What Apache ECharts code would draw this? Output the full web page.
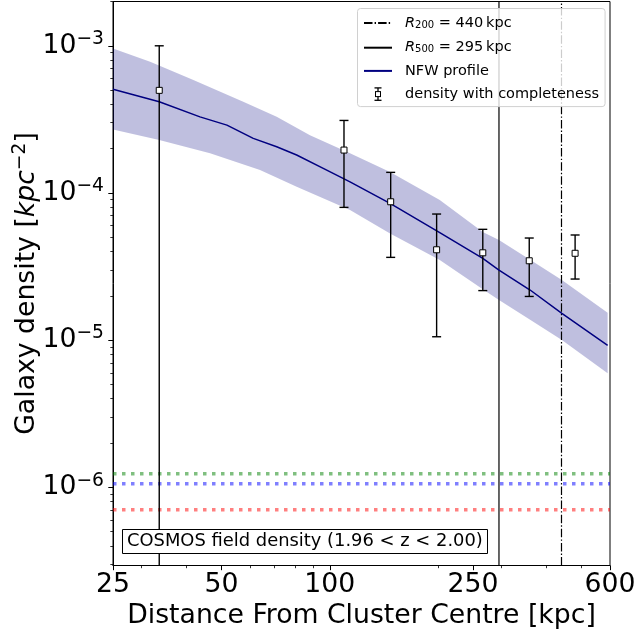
<!DOCTYPE html>
<html>
<head>
<meta charset="utf-8">
<script src="https://cdn.jsdelivr.net/npm/echarts@6/dist/echarts.min.js"></script>
<style>
html,body{margin:0;padding:0;background:#fff;}
#chart{width:638px;height:635px;}
</style>
</head>
<body>
<div id="chart"></div>
<script>
// ---------- data ----------
const xTicks = [25, 50, 100, 250, 600];
const xMinorTicks = [30, 40, 60, 70, 80, 90, 200, 300, 400, 500];
const yTicks = [1e-6, 1e-5, 1e-4, 1e-3];
const xRange = [25, 600];
const yRange = [2.94e-7, 2e-3];

// measured galaxy density (with completeness) and error bars
const radius = [33.6, 109.5, 147.6, 198, 266, 358, 480];
const density = [4.98e-4, 1.956e-4, 8.71e-5, 4.11e-5, 3.92e-5, 3.46e-5, 3.89e-5];
const densityHigh = [1.0e-3, 3.11e-4, 1.38e-4, 7.19e-5, 5.66e-5, 4.94e-5, 5.18e-5];
const densityLow = [null, 7.98e-5, 3.65e-5, 1.054e-5, 2.17e-5, 1.98e-5, 2.60e-5];

// NFW profile
const nfwR = [25, 33.6, 43.6, 51.8, 61.3, 71.2, 80.9, 95.9, 113.8, 147, 202, 266, 295, 360, 441, 591];
const nfw = [5.06e-4, 4.17e-4, 3.29e-4, 2.89e-4, 2.35e-4, 2.06e-4, 1.81e-4, 1.47e-4, 1.19e-4, 8.50e-5, 5.37e-5, 3.59e-5, 2.99e-5, 2.19e-5, 1.52e-5, 9.22e-6];
// NFW uncertainty band (upper and lower edges)
const bandUpperR = [25, 31.7, 41.8, 57.5, 71.2, 88.1, 113.8, 147, 202, 266, 295, 360, 441, 591];
const bandUpper = [9.60e-4, 7.79e-4, 5.85e-4, 4.17e-4, 3.29e-4, 2.47e-4, 1.86e-4, 1.39e-4, 8.95e-5, 5.43e-5, 4.79e-5, 3.51e-5, 2.56e-5, 1.535e-5];
const bandLowerR = [25, 33.6, 46.5, 64, 80.9, 113.8, 147, 202, 266, 295, 360, 441, 591];
const bandLower = [2.70e-4, 2.29e-4, 1.86e-4, 1.43e-4, 1.102e-4, 7.65e-5, 5.31e-5, 3.50e-5, 2.22e-5, 1.873e-5, 1.376e-5, 1.00e-5, 5.95e-6];

// characteristic radii
const r200 = 440;
const r500 = 295;

// COSMOS field densities
const fieldDensity = [1.237e-6, 1.058e-6, 7.04e-7];
const fieldColors = ['rgba(0,128,0,0.5)', 'rgba(0,0,255,0.5)', 'rgba(255,0,0,0.5)'];

// ---------- chart ----------
const FONT = 'DejaVu Sans';
const yMinor = [];
for (let e = -7; e <= -3; e++) {
  for (let k = 2; k <= 9; k++) {
    const v = k * Math.pow(10, e);
    if (v >= yRange[0] && v <= yRange[1]) yMinor.push(v);
  }
}

const errIcon = 'image://data:image/svg+xml;utf8,' + encodeURIComponent(
  "<svg xmlns='http://www.w3.org/2000/svg' width='28' height='14'>" +
  "<g stroke='black' stroke-width='1.3' fill='none'>" +
  "<line x1='14' y1='0.8' x2='14' y2='13.2'/><line x1='10.5' y1='0.8' x2='17.5' y2='0.8'/>" +
  "<line x1='10.5' y1='13.2' x2='17.5' y2='13.2'/></g>" +
  "<rect x='11.5' y='4.5' width='5' height='5' fill='white' stroke='black' stroke-width='1'/></svg>");

const legendLabels = {
  'R200': '{i|R}{sub|200}{n| = 440\u2009kpc}',
  'R500': '{i|R}{sub|500}{n| = 295\u2009kpc}',
  'NFW profile': '{n|NFW profile}',
  'density with completeness': '{n|density with completeness}'
};

const chart = echarts.init(document.getElementById('chart'), null, {renderer: 'canvas'});

const series = [];
// NFW band
series.push({
  type: 'custom', name: 'band', silent: true, z: 1,
  xAxisIndex: 0, yAxisIndex: 0,
  data: [[nfwR[0], nfw[0]]],
  renderItem: function (params, api) {
    const pts = [];
    for (let i = 0; i < bandUpperR.length; i++) pts.push(api.coord([bandUpperR[i], bandUpper[i]]));
    for (let i = bandLowerR.length - 1; i >= 0; i--) pts.push(api.coord([bandLowerR[i], bandLower[i]]));
    return {type: 'polygon', shape: {points: pts}, style: {fill: 'rgba(0,0,128,0.25)', stroke: null}};
  }
});
// field density lines
fieldDensity.forEach(function (v, i) {
  series.push({
    type: 'line', name: 'field' + i, silent: true, z: 2,
    data: [[xRange[0], v], [xRange[1], v]],
    symbol: 'none',
    lineStyle: {color: fieldColors[i], width: 3.5, type: [3.5, 5.5], dashOffset: -9, cap: 'butt'}
  });
});
// R200 / R500
series.push({
  type: 'line', name: 'R200', z: 3, symbol: 'none',
  data: [[r200, yRange[0]], [r200, yRange[1]]],
  lineStyle: {color: '#000', width: 1.2, type: [8.5, 2.1, 1.4, 2.1]},
  itemStyle: {color: '#000'}
});
series.push({
  type: 'line', name: 'R500', z: 3, symbol: 'none',
  data: [[r500, yRange[0]], [r500, yRange[1]]],
  lineStyle: {color: '#000', width: 1.2},
  itemStyle: {color: '#000'}
});
// NFW line
series.push({
  type: 'line', name: 'NFW profile', z: 3, symbol: 'none',
  data: nfwR.map(function (r, i) { return [r, nfw[i]]; }),
  lineStyle: {color: '#000080', width: 1.5},
  itemStyle: {color: '#000080'}
});
// error bars
series.push({
  type: 'custom', name: 'density with completeness', z: 4,
  data: radius.map(function (r, i) { return [r, density[i], densityLow[i], densityHigh[i]]; }),
  itemStyle: {color: '#000'},
  renderItem: function (params, api) {
    const cs = params.coordSys;
    const x = api.value(0);
    const p = api.coord([x, api.value(1)]);
    const hiV = api.value(3);
    const loV = api.value(2);
    const hi = api.coord([x, hiV]);
    const bottom = cs.y + cs.height;
    let loY = (loV && loV > 0) ? api.coord([x, loV])[1] : bottom;
    const hasLowCap = loY < bottom;
    if (loY > bottom) loY = bottom;
    const children = [
      {type: 'line', shape: {x1: p[0], y1: hi[1], x2: p[0], y2: loY}, style: {stroke: '#000', lineWidth: 1.4}},
      {type: 'line', shape: {x1: p[0] - 4.5, y1: hi[1], x2: p[0] + 4.5, y2: hi[1]}, style: {stroke: '#000', lineWidth: 1.4}}
    ];
    if (hasLowCap) children.push({type: 'line', shape: {x1: p[0] - 4.5, y1: loY, x2: p[0] + 4.5, y2: loY}, style: {stroke: '#000', lineWidth: 1.4}});
    children.push({type: 'rect', shape: {x: p[0] - 3, y: p[1] - 3, width: 6, height: 6}, style: {fill: '#fff', stroke: '#000', lineWidth: 1}});
    return {type: 'group', children: children};
  }
});

const hiddenSymbol = {opacity: 0, borderWidth: 0};
const option = {
  animation: false,
  textStyle: {fontFamily: FONT, color: '#000'},
  grid: {left: 113, right: 28, top: 1.5, bottom: 69.5, show: true, borderColor: '#000', borderWidth: 1,
    backgroundColor: 'transparent', containLabel: false, outerBoundsMode: 'none'},
  title: {
    text: 'COSMOS field density (1.96 < z < 2.00)',
    left: 122, top: 529,
    padding: [3, 5, 3, 5],
    backgroundColor: '#fff', borderColor: '#000', borderWidth: 1,
    textStyle: {fontFamily: FONT, fontSize: 17.9, fontWeight: 'normal', color: '#000', lineHeight: 19},
    z: 10
  },
  legend: {
    orient: 'vertical', left: 357.5, top: 8.5,
    padding: [5.5, 6, 5, 5.5],
    itemWidth: 28, itemHeight: 14, itemGap: 8.2,
    backgroundColor: 'rgba(255,255,255,0.8)', borderColor: '#d0d0d0', borderWidth: 1, borderRadius: 3,
    data: [
      {name: 'R200', itemStyle: hiddenSymbol},
      {name: 'R500', itemStyle: hiddenSymbol},
      {name: 'NFW profile', itemStyle: hiddenSymbol},
      {name: 'density with completeness', icon: errIcon}
    ],
    formatter: function (name) { return legendLabels[name]; },
    textStyle: {
      fontFamily: FONT, fontSize: 14.5, color: '#000', padding: [0, 0, 0, 8], lineHeight: 14,
      rich: {
        n: {fontFamily: FONT, fontSize: 14.5, lineHeight: 14},
        i: {fontFamily: FONT, fontSize: 14.5, fontStyle: 'italic', lineHeight: 14},
        sub: {fontFamily: FONT, fontSize: 10, verticalAlign: 'bottom', lineHeight: 14, padding: [6, 0, 0, 0]}
      }
    },
    selectedMode: false
  },
  xAxis: [{
    type: 'log', logBase: 10, min: xRange[0], max: xRange[1],
    name: 'Distance From Cluster Centre [kpc]', nameLocation: 'middle', nameGap: 37,
    nameMoveOverlap: false,
    nameTextStyle: {fontFamily: FONT, fontSize: 26.7, color: '#000'},
    axisLine: {show: true, lineStyle: {color: '#000', width: 1}},
    axisTick: {show: true, customValues: xTicks, length: 4.7, lineStyle: {color: '#000', width: 1}},
    axisLabel: {show: true, customValues: xTicks, margin: 6, fontFamily: FONT, fontSize: 26.7, color: '#000',
      formatter: function (v) { return String(Math.round(v)); }},
    splitLine: {show: false}, minorTick: {show: false}
  }, {
    type: 'log', logBase: 10, min: xRange[0], max: xRange[1], position: 'bottom',
    axisLine: {show: false},
    axisTick: {show: true, customValues: xMinorTicks, length: 2.7, lineStyle: {color: '#000', width: 0.8}},
    axisLabel: {show: false}, splitLine: {show: false}
  }],
  yAxis: [{
    type: 'log', logBase: 10, min: yRange[0], max: yRange[1],
    name: '{n|Galaxy density [}{i|kpc}{s|−2}{n|]}', nameLocation: 'middle', nameGap: 70,
    nameMoveOverlap: false,
    nameTextStyle: {
      fontFamily: FONT, fontSize: 26.7, color: '#000',
      rich: {
        n: {fontFamily: FONT, fontSize: 26.7, lineHeight: 32},
        i: {fontFamily: FONT, fontSize: 26.7, fontStyle: 'italic', lineHeight: 32},
        s: {fontFamily: FONT, fontSize: 18.7, verticalAlign: 'top', lineHeight: 20}
      }
    },
    axisLine: {show: true, lineStyle: {color: '#000', width: 1}},
    axisTick: {show: true, customValues: yTicks, length: 4.7, lineStyle: {color: '#000', width: 1}},
    axisLabel: {
      show: true, customValues: yTicks, margin: 9,
      formatter: function (v) { return '{b|10}{s|−' + Math.abs(Math.round(Math.log10(v))) + '}'; },
      rich: {
        b: {fontFamily: FONT, fontSize: 26.7, lineHeight: 32, color: '#000'},
        s: {fontFamily: FONT, fontSize: 18.7, verticalAlign: 'top', lineHeight: 20, color: '#000'}
      }
    },
    splitLine: {show: false}
  }, {
    type: 'log', logBase: 10, min: yRange[0], max: yRange[1], position: 'left',
    axisLine: {show: false},
    axisTick: {show: true, customValues: yMinor, length: 2.7, lineStyle: {color: '#000', width: 0.8}},
    axisLabel: {show: false}, splitLine: {show: false}
  }],
  series: series
};
chart.setOption(option);
</script>
</body>
</html>
